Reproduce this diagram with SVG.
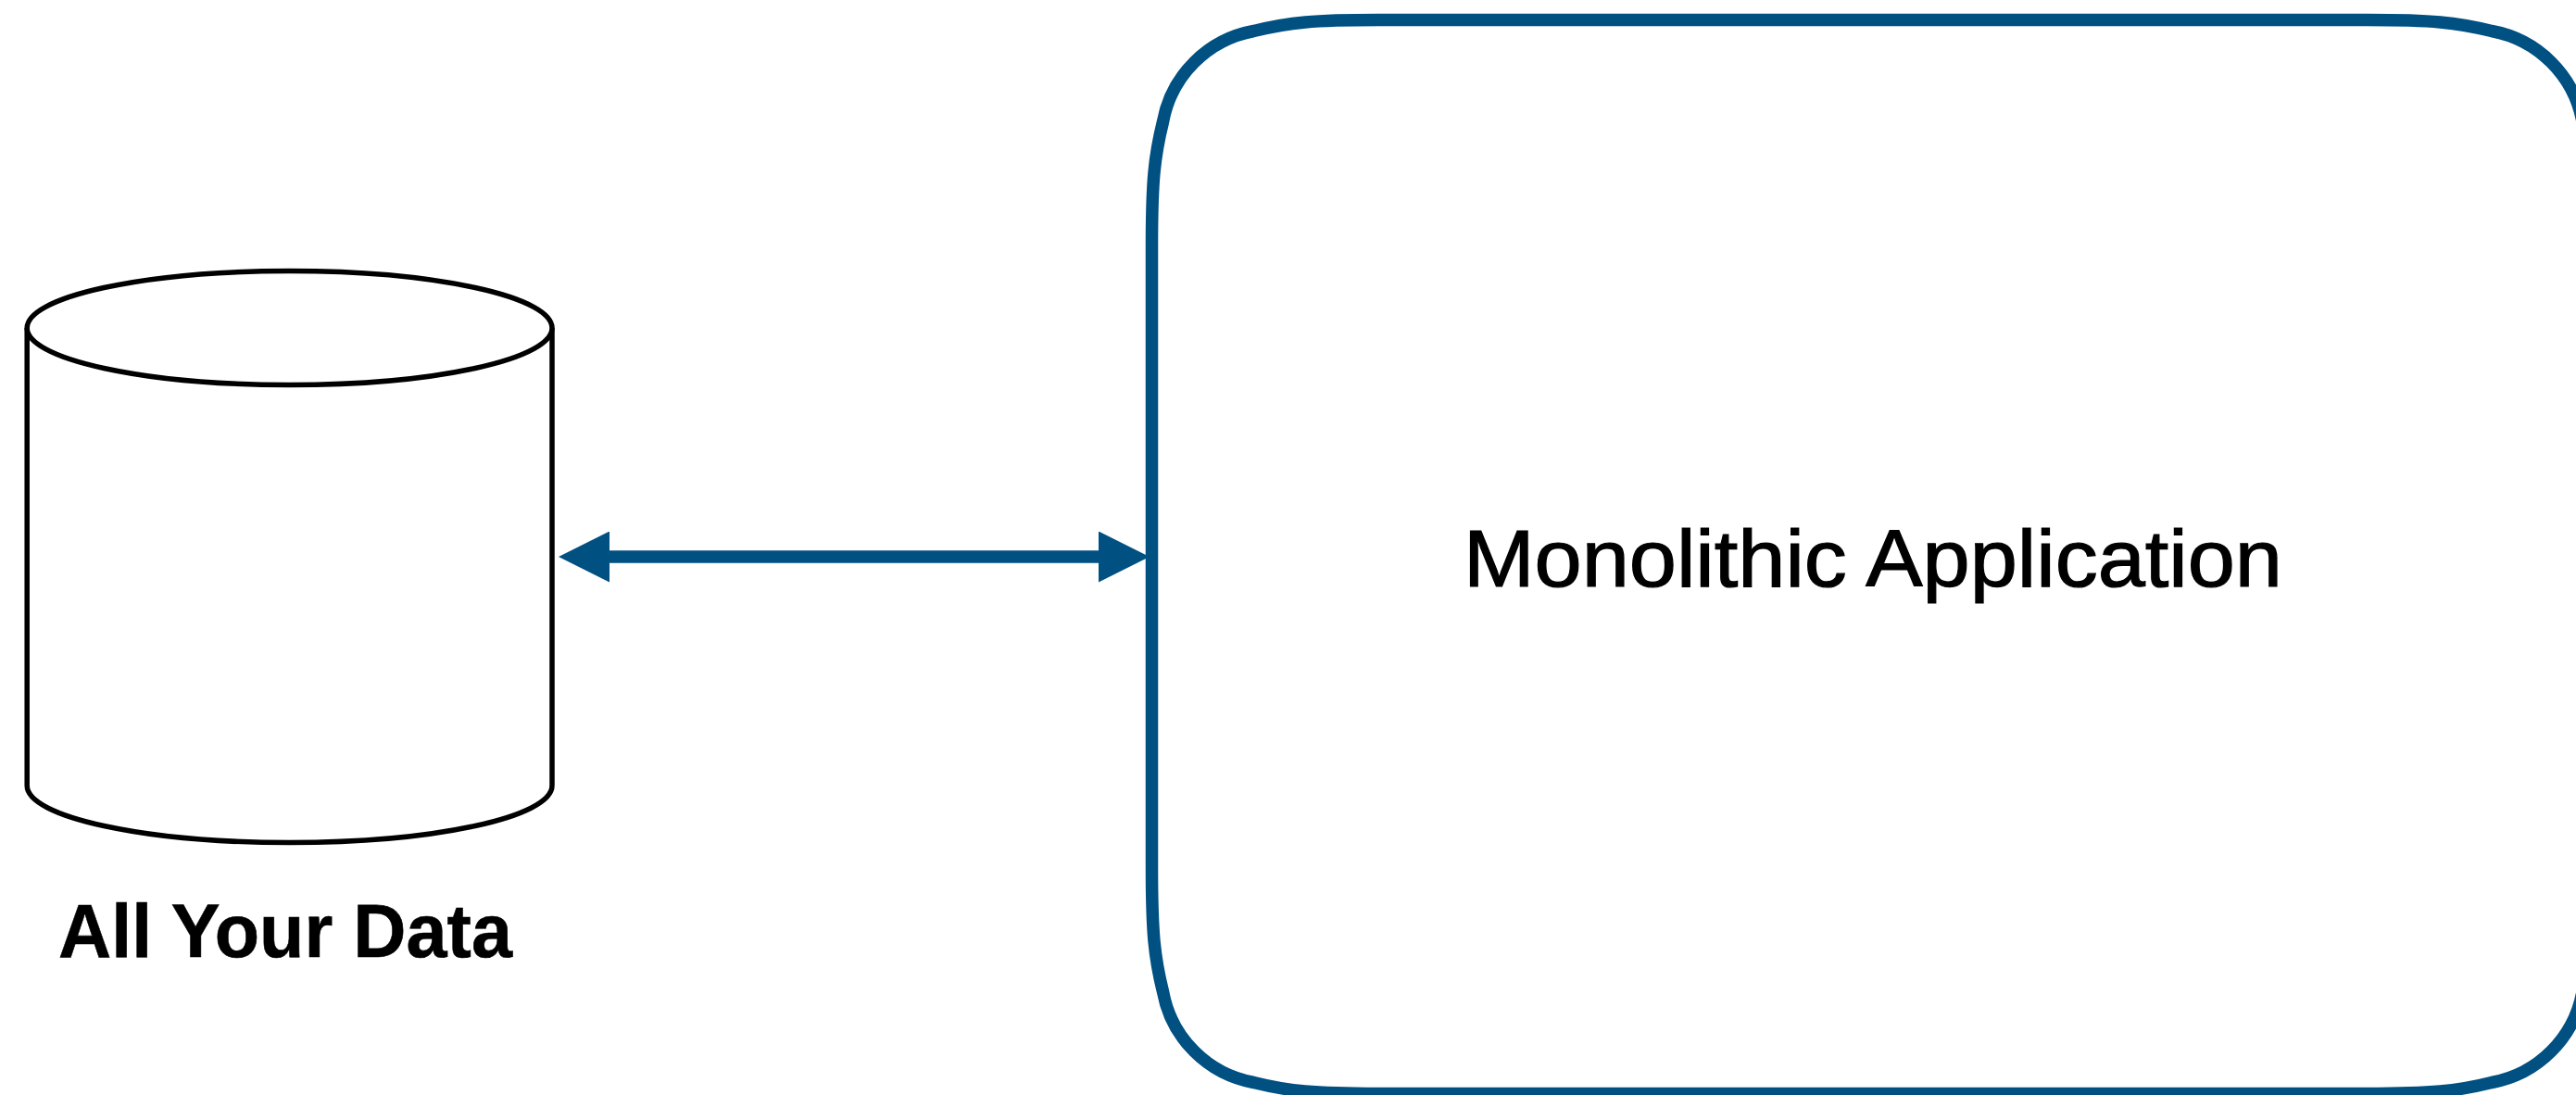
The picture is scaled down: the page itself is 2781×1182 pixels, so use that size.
<svg xmlns="http://www.w3.org/2000/svg" width="2781" height="1182" viewBox="0 0 2781 1182">
  <style>
    .bg { fill: #ffffff; }
    .cyl { fill: #ffffff; stroke: #000000; stroke-width: 5.5; }
    .box { fill: none; stroke: #005082; stroke-width: 13.5; }
    .conn { fill: none; stroke: #005082; stroke-width: 13.5; }
    .label { font-family: "Liberation Sans", Arial, sans-serif; fill: #000000; }
  </style>
  <defs>
    <marker id="head" markerUnits="userSpaceOnUse" markerWidth="55" markerHeight="55" viewBox="0 0 55 55" refX="10" refY="27.5" orient="auto-start-reverse">
      <path d="M0,0 L55,27.5 L0,55 Z" fill="#005082"/>
    </marker>
  </defs>
  <rect class="bg" x="0" y="0" width="2781" height="1182"/>
  <g id="data-store">
    <path class="cyl" d="M29.2,354 V848 C29.2,882 156,909.5 312.6,909.5 C469.2,909.5 596,882 596,848 V354"/>
    <ellipse class="cyl" cx="312.6" cy="354" rx="283.4" ry="61.5"/>
    <text class="label" x="63" y="1032.5" font-size="82" font-weight="700" textLength="490" lengthAdjust="spacingAndGlyphs" stroke="#000000" stroke-width="0.6">All Your Data</text>
  </g>
  <g id="connectors">
    <line class="conn" x1="648" y1="601" x2="1196" y2="601" marker-start="url(#head)" marker-end="url(#head)"/>
  </g>
  <g id="monolith">
    <path class="box" d="M1488.5,21.5 H2555 C2625,21.5 2652,24 2690,33.5 A122,122 0 0 1 2788,131.5 C2797.5,169.5 2800,196.5 2800,266.5 V935.5 C2800,1005.5 2797.5,1032.5 2788,1070.5 A122,122 0 0 1 2690,1168.5 C2652,1178 2625,1180.5 2555,1180.5 H1488.5 C1418.5,1180.5 1391.5,1178 1353.5,1168.5 A122,122 0 0 1 1255.5,1070.5 C1246,1032.5 1243.5,1005.5 1243.5,935.5 V266.5 C1243.5,196.5 1246,169.5 1255.5,131.5 A122,122 0 0 1 1353.5,33.5 C1391.5,24 1418.5,21.5 1488.5,21.5 Z"/>
    <text class="label" x="1580" y="632.5" font-size="88" textLength="884" lengthAdjust="spacingAndGlyphs" stroke="#000000" stroke-width="1.2">Monolithic Application</text>
  </g>
</svg>
